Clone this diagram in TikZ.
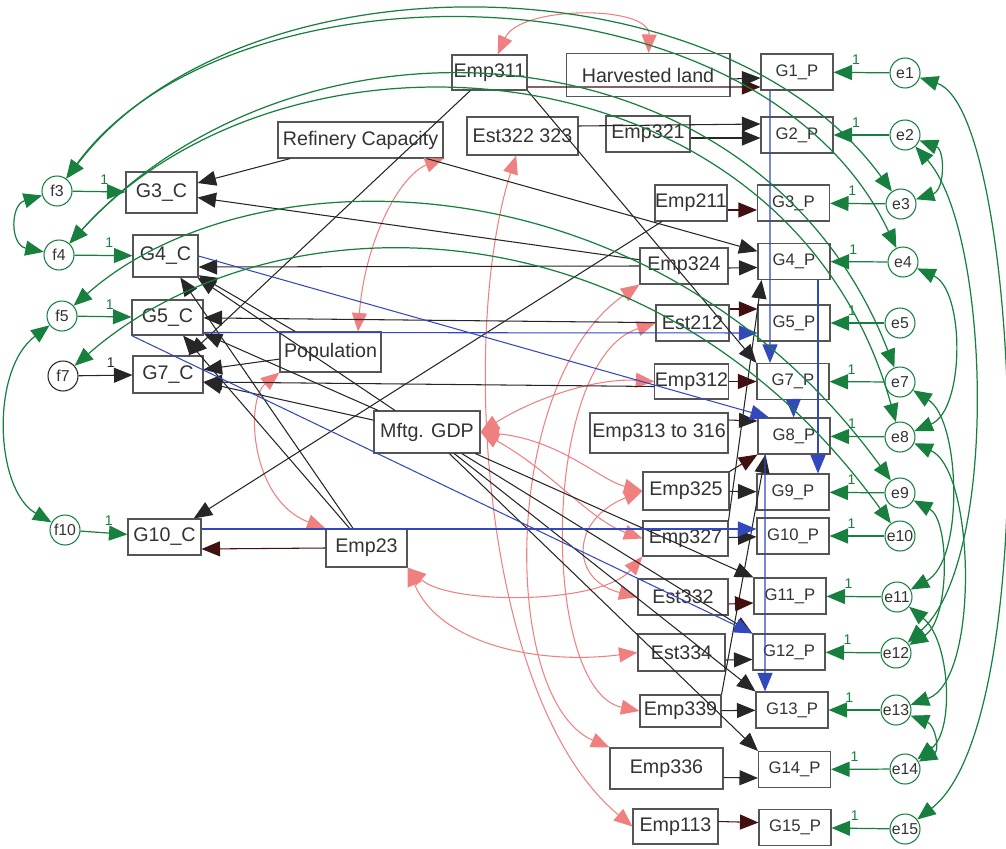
\documentclass[tikz,border=0pt]{standalone}
\usepackage{fontspec}
\setmainfont{Liberation Sans}
\usepackage{xcolor}
\usepackage{tikz}
\usetikzlibrary{arrows.meta}
\definecolor{errgreen}{RGB}{24,128,62}
\definecolor{covpink}{RGB}{240,128,128}
\definecolor{pathblue}{RGB}{52,72,190}
\definecolor{pathdark}{RGB}{66,16,16}
\definecolor{boxgray}{RGB}{85,85,85}
\tikzstyle{obs} = [rectangle, draw=boxgray, fill=white, line width=0.6pt, inner sep=0pt, text=black!80, font=\fontsize{11.2}{13}\selectfont]
\tikzstyle{gp} = [rectangle, minimum width=1.44cm, minimum height=0.72cm, draw=boxgray, fill=white, line width=0.6pt, inner sep=0pt, text=black!80, font=\fontsize{9.5}{11}\selectfont]
\tikzstyle{err} = [circle, minimum size=0.6cm, draw=errgreen, fill=white, line width=0.6pt, inner sep=0pt, text=black!80, font=\fontsize{9}{10}\selectfont]
\tikzstyle{arrow} = [line width=0.6pt, draw=black!85, ->]
\tikzstyle{darrow} = [line width=0.6pt, draw=pathdark, ->]
\tikzstyle{barrow} = [line width=0.6pt, draw=pathblue, ->]
\tikzstyle{garrow} = [line width=0.7pt, draw=errgreen, ->]
\tikzstyle{gcov} = [line width=0.7pt, draw=errgreen, <->]
\tikzstyle{pcov} = [line width=0.6pt, draw=covpink, <->]
\tikzstyle{one} = [above=4pt, pos=0.6, inner sep=0pt, text=errgreen, font=\fontsize{8}{9}\selectfont]

\begin{document}
\begin{tikzpicture}[x=0.02cm, y=-0.02cm, >={Triangle[length=0.37cm,width=0.3cm]}]

\useasboundingbox (0,0) rectangle (1006,848);

\node (Emp311) [obs, minimum width=1.5cm, minimum height=0.7cm] at (489.5,72.5) {Emp311};
\node (Harv) [obs, minimum width=3.28cm, minimum height=0.86cm] at (648,75) {Harvested land};
\node (G1P) [gp] at (797,72) {G1\_P};
\node (e1) [err] at (905,73) {e1};

\node (RefCap) [obs, minimum width=3.3cm, minimum height=0.72cm] at (360.5,140) {Refinery Capacity};
\node (Est322) [obs, minimum width=2.22cm, minimum height=0.76cm] at (522.5,136) {Est322 323};
\node (Emp321) [obs, minimum width=1.68cm, minimum height=0.72cm] at (648,134) {Emp321};
\node (G2P) [gp] at (797,135) {G2\_P};
\node (e2) [err] at (905,135) {e2};

\node (f3) [err] at (57,191) {f3};
\node (G3C) [obs, minimum width=1.42cm, minimum height=0.82cm] at (161.5,192.5) {G3\_C};
\node (Emp211) [obs, minimum width=1.44cm, minimum height=0.72cm] at (691,203) {Emp211};
\node (G3P) [gp] at (793.5,203) {G3\_P};
\node (e3) [err] at (901,204) {e3};

\node (f4) [err] at (59,255) {f4};
\node (G4C) [obs, minimum width=1.3cm, minimum height=0.84cm] at (165.5,256) {G4\_C};
\node (Emp324) [obs, minimum width=1.76cm, minimum height=0.72cm] at (684,266) {Emp324};
\node (G4P) [gp] at (794,261.5) {G4\_P};
\node (e4) [err] at (903,262) {e4};

\node (f5) [err] at (62,316) {f5};
\node (G5C) [obs, minimum width=1.42cm, minimum height=0.7cm] at (167.5,317.5) {G5\_C};
\node (Est212) [obs, minimum width=1.46cm, minimum height=0.72cm] at (692.5,323) {Est212};
\node (G5P) [gp] at (794,323) {G5\_P};
\node (e5) [err] at (900,323) {e5};

\node (Population) [obs, minimum width=2.02cm, minimum height=0.8cm] at (330.5,352) {Population};
\node (f7) [err, draw=black!85] at (63,376) {f7};
\node (G7C) [obs, minimum width=1.4cm, minimum height=0.74cm] at (168,374.5) {G7\_C};
\node (Emp312) [obs, minimum width=1.46cm, minimum height=0.7cm] at (691.5,381.5) {Emp312};
\node (G7P) [gp] at (793,381.5) {G7\_P};
\node (e7) [err] at (900,382) {e7};

\node (Mftg) [obs, minimum width=2.12cm, minimum height=0.84cm] at (427,432) {Mftg. GDP};
\node (Emp313) [obs, minimum width=2.76cm, minimum height=0.8cm] at (659,433) {Emp313 to 316};
\node (G8P) [gp] at (794,436) {G8\_P};
\node (e8) [err] at (900,437) {e8};

\node (Emp325) [obs, minimum width=1.72cm, minimum height=0.76cm] at (686,491) {Emp325};
\node (G9P) [gp] at (793,492) {G9\_P};
\node (e9) [err] at (900,493) {e9};

\node (f10) [err] at (65,530) {f10};
\node (G10C) [obs, minimum width=1.46cm, minimum height=0.72cm] at (164.5,537) {G10\_C};
\node (Emp23) [obs, minimum width=1.62cm, minimum height=0.76cm] at (366.5,548) {Emp23};
\node (Emp327) [obs, minimum width=1.7cm, minimum height=0.7cm] at (685.5,538.5) {Emp327};
\node (G10P) [gp] at (793,536) {G10\_P};
\node (e10) [err] at (900,536) {e10};

\node (Est332) [obs, minimum width=1.8cm, minimum height=0.72cm] at (683,597) {Est332};
\node (G11P) [gp] at (790,596) {G11\_P};
\node (e11) [err] at (897,597) {e11};

\node (Est334) [obs, minimum width=1.74cm, minimum height=0.74cm] at (681.5,652.5) {Est334};
\node (G12P) [gp] at (789,652) {G12\_P};
\node (e12) [err] at (896,653) {e12};

\node (Emp339) [obs, minimum width=1.62cm, minimum height=0.64cm] at (680.5,711) {Emp339};
\node (G13P) [gp] at (792,710) {G13\_P};
\node (e13) [err] at (896,710) {e13};

\node (Emp336) [obs, minimum width=2.26cm, minimum height=0.82cm] at (666.5,768.5) {Emp336};
\node (G14P) [gp] at (794.5,769.5) {G14\_P};
\node (e14) [err] at (905,769) {e14};

\node (Emp113) [obs, minimum width=1.7cm, minimum height=0.7cm] at (675.5,826.5) {Emp113};
\node (G15P) [gp] at (795,827.5) {G15\_P};
\node (e15) [err] at (905,829) {e15};

\draw [pcov] (Emp311) .. controls (520,5) and (650,5) .. (Harv);
\draw [pcov] (RefCap.south east) .. controls (400,175) and (365,240) .. ([xshift=0.55cm]Population.north);
\draw [pcov] (Population.south west) .. controls (245,400) and (250,500) .. (Emp23.north west);
\draw [pcov] (Emp23.south east) .. controls (450,605) and (600,605) .. (Emp327.south west);
\draw [pcov] (Emp23.south east) .. controls (440,645) and (540,665) .. (Est334.west);
\draw [pcov] (Mftg.east) .. controls (540,395) and (600,378) .. (Emp312.west);
\draw [pcov] (Mftg.east) .. controls (560,440) and (600,480) .. (Emp325.west);
\draw [pcov] (Mftg.east) .. controls (550,470) and (590,520) .. (Emp327.west);
\draw [pcov] (Emp324.south west) .. controls (500,380) and (500,700) .. (Emp336.north west);
\draw [pcov] (Est212.west) .. controls (540,360) and (540,690) .. (Emp339.west);
\draw [pcov] (Emp325.west) .. controls (570,520) and (570,580) .. (Est332.west);
\draw [pcov] (Est322) .. controls (460,330) and (480,700) .. (Emp113.west);

\draw [arrow] (RefCap) -- (G3C);
\draw [arrow] (RefCap) -- (G4P);
\draw [arrow] (Emp324) -- (G3C);
\draw [arrow] (Emp324.west) -- ([yshift=-0.22cm]G4C.east);
\draw [arrow] ([yshift=-0.04cm]Emp324.east) -- ([yshift=-0.12cm]G4P.west);
\draw [arrow] (Population) -- (G4C);
\draw [arrow] (Population) -- (G7C);
\draw [arrow] (Mftg) -- (G4C);
\draw [arrow] (Mftg) -- (G5C);
\draw [arrow] (Mftg) -- (G7C);
\draw [arrow] (Emp23) -- (G4C);
\draw [arrow] (Emp23) -- (G5C);
\draw [darrow] (Emp23.west) -- ([yshift=-0.24cm]G10C.east);
\draw [arrow] (Emp211) -- (G10C);
\draw [darrow] ([yshift=-0.14cm]Emp211.east) -- ([yshift=-0.14cm]G3P.west);
\draw [arrow] (Emp311) -- (G7C);
\draw [arrow] (Emp311.south east) -- (G7P.north west);
\draw [darrow] ([yshift=-0.29cm]Emp311.east) -- ([yshift=-0.3cm]G1P.west);
\draw [arrow] ([yshift=-0.08cm]Harv.east) -- ([yshift=-0.12cm]G1P.west);
\draw [arrow] ([yshift=0.2cm]Est322.east) -- ([yshift=0.22cm]G2P.west);
\draw [arrow] ([yshift=-0.08cm]Emp321.east) -- ([yshift=-0.06cm]G2P.west);
\draw [arrow] (Est212) -- (G5C);
\draw [darrow] ([yshift=0.28cm]Est212.east) -- ([yshift=0.28cm]G5P.west);
\draw [arrow] ([yshift=-0.1cm]Emp312.west) -- ([yshift=-0.15cm]G7C.east);
\draw [darrow] (Emp312) -- (G7P);
\draw [arrow] ([yshift=0.26cm]Emp313.east) -- ([yshift=0.3cm]G8P.west);
\draw [darrow] (Emp325.north east) -- (G8P.south west);
\draw [arrow] (Emp325) -- (G9P);
\draw [arrow] (Emp327.north east) -- ([xshift=0.08cm]G4P.south west);
\draw [arrow] (Emp327) -- (G10P);
\draw [arrow] (Emp339.north east) -- ([xshift=0.16cm]G8P.south west);
\draw [arrow] (Emp339) -- (G13P);
\draw [darrow] ([yshift=-0.14cm]Est332.east) -- ([yshift=-0.14cm]G11P.west);
\draw [arrow] ([yshift=-0.15cm]Est334.east) -- ([yshift=-0.15cm]G12P.west);
\draw [arrow] (Mftg) -- (G11P.north west);
\draw [arrow] (Mftg) -- (G12P.north west);
\draw [arrow] (Mftg) -- (G13P.north west);
\draw [arrow] (Mftg) -- (G14P.north west);
\draw [arrow] ([yshift=-0.18cm]Emp336.east) -- ([yshift=-0.17cm]G14P.west);
\draw [darrow] ([yshift=0.1cm]Emp113.east) -- ([yshift=0.1cm]G15P.west);

\draw [barrow] ([xshift=-0.54cm]G1P.south) -- ([xshift=-0.46cm]G7P.north);
\draw [barrow] ([xshift=0.48cm]G4P.south) -- ([xshift=0.5cm]G9P.north);
\draw [barrow] (G7P) -- (G8P);
\draw [barrow] ([xshift=-0.58cm]G8P.south) -- ([xshift=-0.54cm]G13P.north);
\draw [barrow] (G4C.east) -- ([xshift=-0.5cm]G8P.north);
\draw [barrow] ([yshift=-0.3cm]G5C.east) -- ([yshift=-0.2cm]G5P.west);
\draw [barrow] (G5C.south west) -- (G12P.north west);
\draw [barrow] ([yshift=0.16cm]G10C.east) -- ([yshift=0.14cm]G10P.west);

\draw [garrow] (f3) -- (G3C) node[one]{1};
\draw [garrow] (f4) -- (G4C) node[one]{1};
\draw [garrow] (f5) -- (G5C) node[one]{1};
\draw [arrow] (f7) -- (G7C) node[one, text=black!85]{1};
\draw [garrow] (f10) -- (G10C) node[one]{1};

\draw [garrow] (e1) -- (G1P) node[one]{1};
\draw [garrow] (e2) -- (G2P) node[one]{1};
\draw [garrow] (e3) -- (G3P) node[one]{1};
\draw [garrow] (e4) -- (G4P) node[one]{1};
\draw [garrow] (e5) -- (G5P) node[one]{1};
\draw [garrow] (e7) -- (G7P) node[one]{1};
\draw [garrow] (e8) -- (G8P) node[one]{1};
\draw [garrow] (e9) -- (G9P) node[one]{1};
\draw [garrow] (e10) -- (G10P) node[one]{1};
\draw [garrow] (e11) -- (G11P) node[one]{1};
\draw [garrow] (e12) -- (G12P) node[one]{1};
\draw [garrow] (e13) -- (G13P) node[one]{1};
\draw [garrow] (e14) -- (G14P) node[one]{1};
\draw [garrow] (e15) -- (G15P) node[one]{1};

\draw [gcov] (f3) .. controls (10,205) and (10,245) .. (f4);
\draw [gcov] (f5) .. controls (-10,370) and (-5,490) .. (f10);
\draw [gcov] (f3) .. controls (240,-50) and (720,-45) .. (e3);
\draw [gcov] (f3) .. controls (230,-45) and (760,-40) .. (e4);
\draw [gcov] (f4) .. controls (300,-10) and (760,20) .. (e7);
\draw [gcov] (f4) .. controls (290,0) and (790,40) .. (e8);
\draw [gcov] (f5) .. controls (250,150) and (650,150) .. (e9);
\draw [gcov] (f7) .. controls (270,195) and (650,190) .. (e10);

\draw [gcov] (e2) .. controls (945,150) and (945,190) .. (e3);
\draw [gcov] (e1) .. controls (1020,110) and (1045,720) .. (e15);
\draw [gcov] (e2) .. controls (990,230) and (1000,560) .. (e12);
\draw [gcov] (e4) .. controls (965,290) and (965,410) .. (e8);
\draw [gcov] (e7) .. controls (960,420) and (965,560) .. (e11);
\draw [gcov] (e8) .. controls (975,470) and (980,680) .. (e13);
\draw [gcov] (e9) .. controls (950,520) and (950,620) .. (e12);
\draw [gcov] (e11) .. controls (950,640) and (955,730) .. (e14);
\draw [gcov] (e13) .. controls (935,725) and (940,750) .. (e14);

\end{tikzpicture}
\end{document}
